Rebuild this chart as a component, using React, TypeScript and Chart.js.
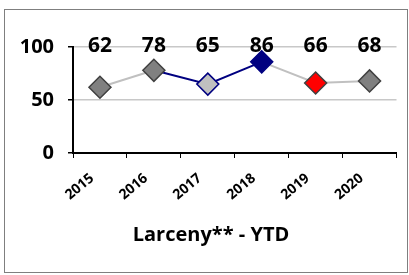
import React, { useEffect, useRef } from "react";
import { Chart, registerables } from "chart.js";

Chart.register(...registerables);

const categories = ["2015", "2016", "2017", "2018", "2019", "2020"];
const values = [62, 78, 65, 86, 66, 68];
const pointFills = ["#808080", "#808080", "#c0c0c0", "#000080", "#ff0000", "#808080"];
const pointBorders = ["#404040", "#404040", "#000080", "#000080", "#404040", "#404040"];
// colour of the segment leaving each point
const segmentColors = ["#c0c0c0", "#000080", "#000080", "#c0c0c0", "#c0c0c0"];
const yTicks = [0, 50, 100];
const titleText = "Larceny** - YTD";

const FONT = "'Open Sans', Lato, sans-serif";

export default function App() {
  const ref = useRef<HTMLCanvasElement | null>(null);

  useEffect(() => {
    const canvas = ref.current;
    if (!canvas) return;

    const framePlugin = {
      id: "frame",
      beforeDraw(chart: any) {
        const ctx = chart.ctx;
        ctx.save();
        ctx.fillStyle = "#ffffff";
        ctx.fillRect(0, 0, chart.width, chart.height);
        ctx.strokeStyle = "#7f7f7f";
        ctx.lineWidth = 1;
        ctx.strokeRect(4.5, 9.5, 403, 263);
        ctx.restore();
      },
      afterDraw(chart: any) {
        const ctx = chart.ctx;
        const xs = chart.scales.x;
        ctx.save();
        ctx.fillStyle = "#000";
        ctx.textAlign = "center";
        ctx.textBaseline = "middle";
        ctx.font = `bold 21px ${FONT}`;
        values.forEach((v, i) => {
          ctx.fillText(String(v), xs.getPixelForValue(i), 46);
        });
        ctx.font = `bold 20px ${FONT}`;
        ctx.fillText(titleText, 211, 235);
        ctx.restore();
      },
    };

    const chart = new Chart(canvas, {
      type: "line",
      data: {
        labels: categories,
        datasets: [
          {
            data: values,
            borderWidth: 2,
            borderColor: "#c0c0c0",
            segment: {
              borderColor: (c: any) => segmentColors[c.p0DataIndex],
            },
            pointStyle: "rectRot",
            pointRadius: 11,
            pointHoverRadius: 11,
            pointBackgroundColor: pointFills,
            pointBorderColor: pointBorders,
            pointBorderWidth: 1.5,
            tension: 0,
          },
        ],
      },
      options: {
        animation: false,
        responsive: false,
        maintainAspectRatio: false,
        layout: { padding: { left: 0, right: 9, top: 47, bottom: 0 } },
        plugins: {
          legend: { display: false },
          tooltip: { enabled: false },
          title: { display: false },
        },
        scales: {
          x: {
            offset: true,
            grid: {
              offset: true,
              drawOnChartArea: false,
              tickLength: 5,
              tickColor: "#000",
              color: "#000",
            },
            border: { color: "#000", width: 2 },
            ticks: {
              color: "#000",
              font: { family: FONT, size: 14, weight: "bold" },
              maxRotation: 40,
              minRotation: 40,
              padding: 12,
              labelOffset: -8,
            },
            afterFit: (s: any) => {
              s.height = 275 - 153;
            },
          },
          y: {
            min: 0,
            max: 100,
            afterBuildTicks: (s: any) => {
              s.ticks = yTicks.map((v) => ({ value: v }));
            },
            grid: {
              color: (c: any) => (c.tick && c.tick.value === 0 ? "rgba(0,0,0,0)" : "#c8c8c8"),
              tickColor: "#000",
              tickLength: 5,
              lineWidth: 1.5,
            },
            border: { color: "#000", width: 2 },
            ticks: {
              color: "#000",
              font: { family: FONT, size: 20, weight: "bold" },
              padding: 14,
            },
            afterFit: (s: any) => {
              s.width = 73;
            },
          },
        },
      },
      plugins: [framePlugin],
    } as any);

    return () => chart.destroy();
  }, []);

  return (
    <div style={{ position: "fixed", left: 0, top: 0, width: 409, height: 275, background: "#fff" }}>
      <canvas ref={ref} width={409} height={275} style={{ width: 409, height: 275, display: "block" }} />
    </div>
  );
}
